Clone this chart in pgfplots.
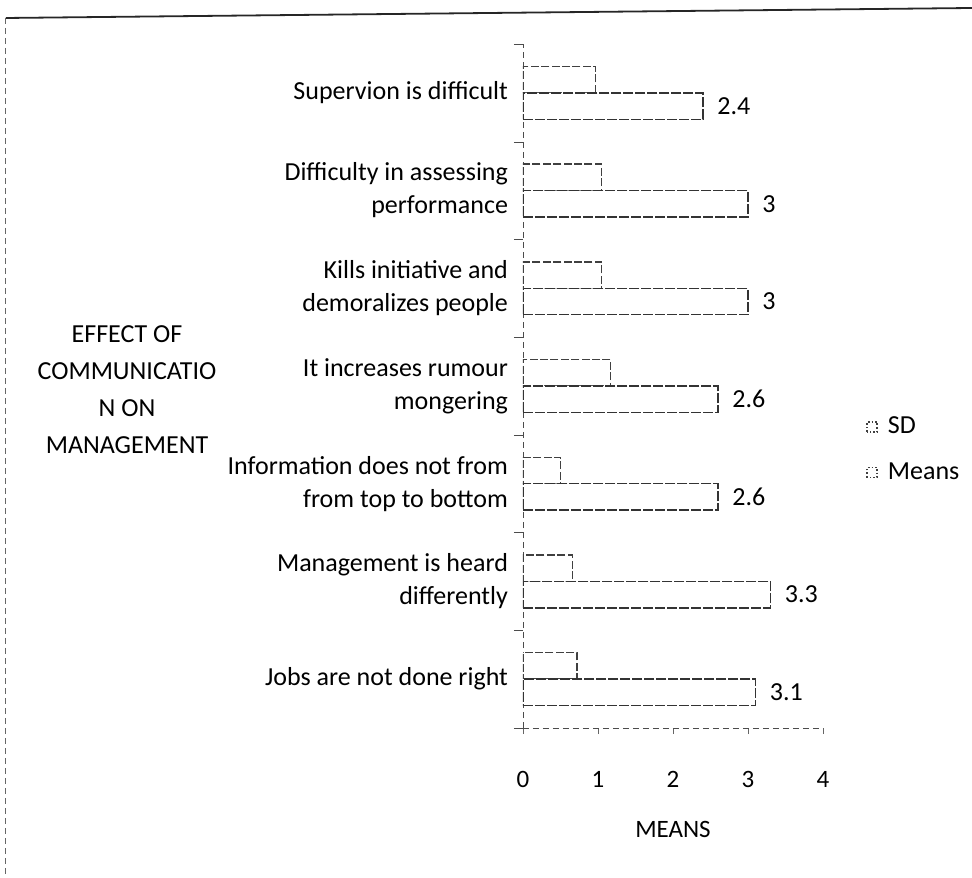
\documentclass[border=0pt]{standalone}
\usepackage{pgfplots}
\usepackage{pgfplotstable}
\pgfplotsset{compat=1.18}
\usepackage{fontspec}
\setmainfont{Carlito}

\pgfplotstableread{
y sd mean
0 0.72 3.1
1 0.66 3.3
2 0.50 2.6
3 1.17 2.6
4 1.05 3.0
5 1.05 3.0
6 0.97 2.4
}\data

\begin{document}
\begin{tikzpicture}[x=1pt,y=1pt]
\useasboundingbox (-261.5,-74.5) rectangle (224.5,364);
\draw[black!85, line width=0.9pt] (-258.5,355) -- (224.5,360);
\draw[black!60, densely dashed, line width=0.5pt] (-258.5,355) -- (-258.5,-74.5);
\begin{axis}[
  at={(0,0)}, anchor=south west,
  scale only axis, width=150pt, height=342pt,
  xbar, bar width=0.27,
  xmin=0, xmax=4, ymin=-0.5, ymax=6.5,
  xtick={0,1,2,3,4},
  ytick={0,...,6},
  minor ytick={-0.5,0.5,...,6.5},
  yticklabels={
    {Jobs are not done right},
    {Management is heard\\differently},
    {Information does not from\\from top to bottom},
    {It increases rumour\\mongering},
    {Kills initiative and\\demoralizes people},
    {Difficulty in assessing\\performance},
    {Supervion is difficult}},
  axis x line*=bottom, axis y line*=left,
  axis line style={black!70, densely dashed, -},
  tick align=outside,
  major tick length=3pt, minor tick length=4.5pt,
  major y tick style={draw=none},
  minor y tick style={black!70},
  major x tick style={black!60},
  /pgf/number format/assume math mode=true,
  yticklabel style={align=right, font=\fontsize{13}{16.5}\selectfont, xshift=-1pt},
  xticklabel style={font=\fontsize{12.5}{14}\selectfont, yshift=-15pt},
  xlabel={MEANS},
  xlabel style={font=\fontsize{12.5}{15}\selectfont, at={(axis description cs:0.5,-0.149)}, anchor=center},
  ylabel={EFFECT OF\\COMMUNICATIO\\N ON\\MANAGEMENT},
  ylabel style={rotate=-90, align=center, font=\fontsize{13}{18.5}\selectfont, at={(axis description cs:-1.32,0.494)}, anchor=center},
  legend style={draw=none, fill=none, inner sep=0pt, at={(axis description cs:1.143,0.407)}, anchor=west,
    font=\fontsize{13}{15}\selectfont, row sep=9pt, legend cell align=left},
  legend image code/.code={\draw[black!75, densely dotted, line width=0.8pt, fill=white] (0pt,-2.5pt) rectangle (5pt,2.5pt);},
]
\addplot[bar shift=0.135, fill=white, draw=black!75, line width=0.7pt, dash pattern=on 4pt off 1.2pt]
  table[x=sd, y=y] {\data};
\addlegendentry{\hspace{3pt}SD}
\addplot[bar shift=-0.135, fill=white, draw=black!80, line width=0.7pt, dash pattern=on 5pt off 1pt,
  nodes near coords, nodes near coords style={anchor=west, xshift=3.5pt, font=\fontsize{13}{15}\selectfont, text=black}]
  table[x=mean, y=y] {\data};
\addlegendentry{\hspace{3pt}Means}
\end{axis}
\end{tikzpicture}
\end{document}
